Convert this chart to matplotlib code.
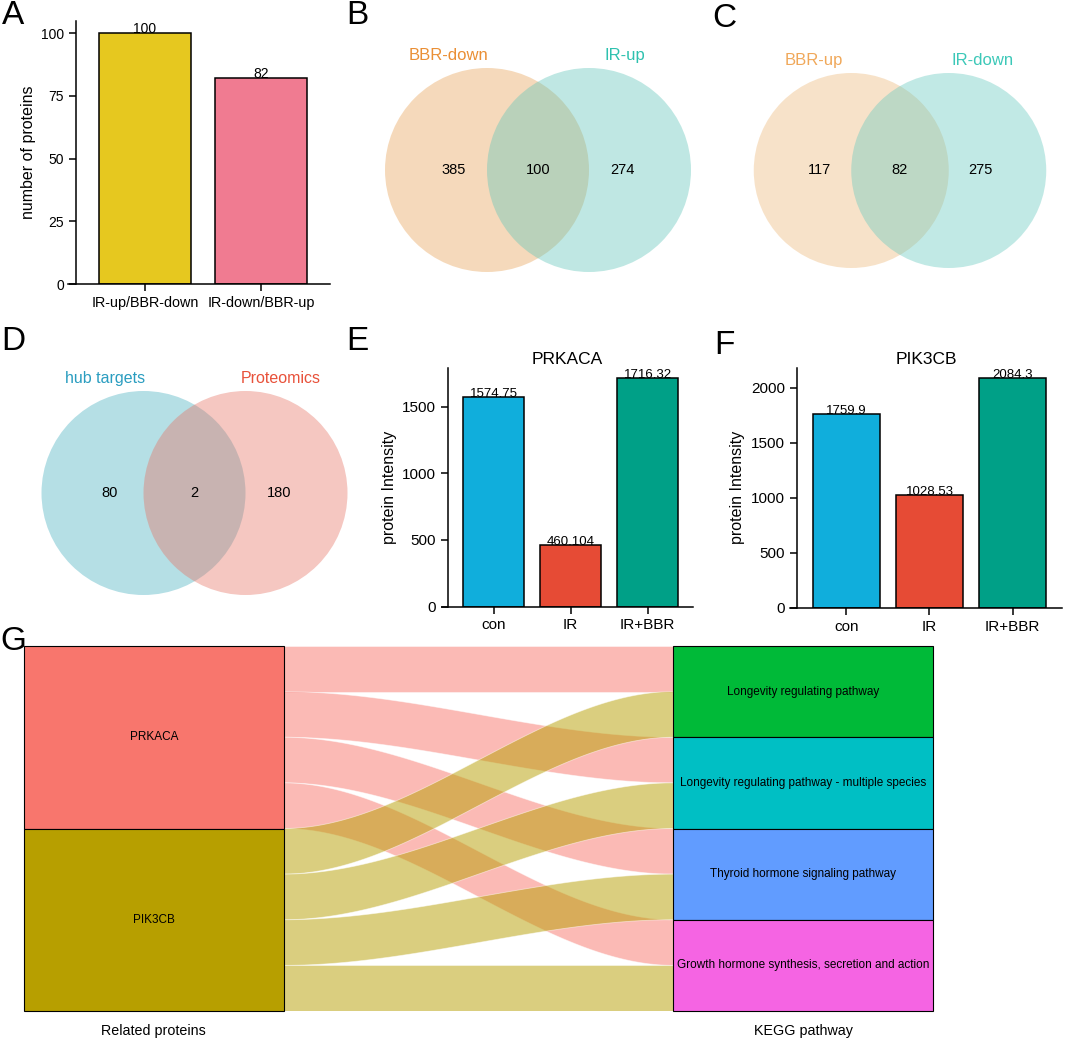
import numpy as np
import matplotlib
matplotlib.use("Agg")
import matplotlib.pyplot as plt
from matplotlib.patches import Circle, Rectangle, Polygon

plt.rcParams['font.family'] = ['Liberation Sans', 'DejaVu Sans']

# ---------------- data ----------------
a_cats = ['IR-up/BBR-down', 'IR-down/BBR-up']
a_vals = [100, 82]
a_colors = ['#E6C81F', '#F07B91']

venn_b_sets = ['BBR-down', 'IR-up']
venn_b_counts = [385, 100, 274]
venn_c_sets = ['BBR-up', 'IR-down']
venn_c_counts = [117, 82, 275]
venn_d_sets = ['hub targets', 'Proteomics']
venn_d_counts = [80, 2, 180]

groups = ['con', 'IR', 'IR+BBR']
group_colors = ['#10AEDC', '#E64B35', '#00A087']
prkaca_vals = [1574.75, 460.104, 1716.32]
pik3cb_vals = [1759.9, 1028.53, 2084.3]

proteins = ['PRKACA', 'PIK3CB']
protein_colors = ['#F8766D', '#B79F00']
pathways = ['Longevity regulating pathway',
            'Longevity regulating pathway - multiple species',
            'Thyroid hormone signaling pathway',
            'Growth hormone synthesis, secretion and action']
pathway_colors = ['#00BA38', '#00BFC4', '#619CFF', '#F564E3']
links = [(p, k, 1) for p in proteins for k in pathways]

# ---------------- figure ----------------
W, H = 1065, 1040
fig = plt.figure(figsize=(W / 100, H / 100), dpi=100)


def px_axes(x0, y0, x1, y1):
    return fig.add_axes([x0 / W, 1 - y1 / H, (x1 - x0) / W, (y1 - y0) / H])


def bar_panel(box, cats, vals, colors, ytop, yticks, ylabel, title=None,
              xl=-0.665, xr_pad=0.6, spine_x=-0.595, width=0.79, fs_val=10,
              fs_xt=10.4, fs_yt=10):
    ax = px_axes(*box)
    x = np.arange(len(cats))
    ax.bar(x, vals, width=width, color=colors, edgecolor='black', linewidth=1.1, zorder=2)
    for xi, v in zip(x, vals):
        ax.text(xi, v, f'{v:g}', ha='center', va='baseline', fontsize=fs_val, zorder=3)
    ax.set_xlim(xl, len(cats) - 1 + xr_pad)
    ax.set_ylim(0, ytop)
    ax.set_xticks(x)
    ax.set_xticklabels(cats)
    ax.set_yticks(yticks)
    ax.tick_params(axis='both', length=5, width=1.1, direction='out')
    ax.tick_params(axis='x', labelsize=fs_xt)
    ax.tick_params(axis='y', labelsize=fs_yt)
    ax.spines['top'].set_visible(False)
    ax.spines['right'].set_visible(False)
    ax.spines['left'].set_position(('data', spine_x))
    for s in ('left', 'bottom'):
        ax.spines[s].set_linewidth(1.1)
    ax.set_ylabel(ylabel, fontsize=11.5, labelpad=4)
    if title:
        ax.set_title(title, fontsize=12.5, pad=3)
    return ax


# Panel A
bar_panel((68, 21, 330, 284.3), a_cats, a_vals, a_colors, 104.8,
          [0, 25, 50, 75, 100], 'number of proteins', xl=-0.664, xr_pad=0.595)
# Panel E
bar_panel((442, 368, 693, 606.5), groups, prkaca_vals, group_colors, 1793,
          [0, 500, 1000, 1500], 'protein Intensity', title='PRKACA',
          xl=-0.669, xr_pad=0.59, spine_x=-0.591, width=0.79, fs_val=9.5,
          fs_xt=11, fs_yt=11)
# Panel F
bar_panel((790, 368, 1062, 607.7), groups, pik3cb_vals, group_colors, 2179,
          [0, 500, 1000, 1500, 2000], 'protein Intensity', title='PIK3CB',
          xl=-0.68, xr_pad=0.596, spine_x=-0.599, width=0.81, fs_val=9.5,
          fs_xt=11, fs_yt=11)


# ---------------- Venn panels ----------------
def venn_panel(cx, cy, r, sets, counts, fills, tcolors, fs_lab=12, fs_num=10.5):
    hw, hh = 1.9, 1.5
    ax = px_axes(cx - hw * r, cy - hh * r, cx + hw * r, cy + hh * r)
    ax.set_xlim(-hw, hw)
    ax.set_ylim(-hh, hh)
    ax.axis('off')
    for xc, fc in zip([-0.5, 0.5], fills):
        ax.add_patch(Circle((xc, 0), 1.0, facecolor=fc, alpha=0.4, edgecolor='none'))
    for xc, n in zip([-0.83, 0.0, 0.83], counts):
        ax.text(xc, 0, str(n), ha='center', va='center', fontsize=fs_num)
    for xc, s, tc in zip([-0.88, 0.85], sets, tcolors):
        ax.text(xc, 1.125, s, ha='center', va='center', fontsize=fs_lab, color=tc)
    return ax


venn_panel(538, 170, 102, venn_b_sets, venn_b_counts,
           ['#E8A255', '#5FC5B9'], ['#EA8F35', '#2EC1AF'])
venn_panel(900, 170.5, 97.5, venn_c_sets, venn_c_counts,
           ['#EDB878', '#66C9BF'], ['#F0A85A', '#3CC8B8'])
venn_panel(194.5, 493, 102, venn_d_sets, venn_d_counts,
           ['#46AFC0', '#E67364'], ['#2A9DC0', '#E8513A'], fs_lab=11.5, fs_num=10.5)

# ---------------- Panel G: alluvial ----------------
axg = px_axes(24, 646, 933, 1011)
total = sum(w for _, _, w in links)
axg.set_xlim(0.8, 2.2)
axg.set_ylim(total, 0)
axg.axis('off')
sw = 0.4

left_pos = {}
y = 0
for p in proteins:
    n = sum(w for pp, _, w in links if pp == p)
    left_pos[p] = [y, y + n]
    y += n
right_pos = {}
y = 0
for k in pathways:
    n = sum(w for _, kk, w in links if kk == k)
    right_pos[k] = [y, y + n]
    y += n

l_cursor = {p: left_pos[p][0] for p in proteins}
flows = []
for p in proteins:
    for k in pathways:
        for pp, kk, w in links:
            if pp == p and kk == k:
                flows.append((p, k, l_cursor[p], w))
                l_cursor[p] += w

r_cursor = {k: right_pos[k][0] for k in pathways}
rmap = {}
for k in pathways:
    for p in proteins:
        for pp, kk, w in links:
            if pp == p and kk == k:
                rmap[(p, k)] = r_cursor[k]
                r_cursor[k] += w

t = np.linspace(0, 1, 120)
s = 3 * t ** 2 - 2 * t ** 3
x0, x1 = 1 + sw / 2, 2 - sw / 2
xs = x0 + (x1 - x0) * t
for pi, p in enumerate(proteins):
    for (fp, k, yl, w) in flows:
        if fp != p:
            continue
        yr = rmap[(fp, k)]
        top = yl + (yr - yl) * s
        bot = (yl + w) + ((yr + w) - (yl + w)) * s
        verts = np.concatenate([np.column_stack([xs, top]),
                                np.column_stack([xs[::-1], bot[::-1]])])
        axg.add_patch(Polygon(verts, closed=True, facecolor=protein_colors[pi],
                              alpha=0.5, edgecolor='white', linewidth=0.6, zorder=1))

for p, c in zip(proteins, protein_colors):
    y0, y1 = left_pos[p]
    axg.add_patch(Rectangle((1 - sw / 2, y0), sw, y1 - y0, facecolor=c,
                            edgecolor='black', linewidth=0.8, zorder=3, clip_on=False))
    axg.text(1, (y0 + y1) / 2, p, ha='center', va='center', fontsize=8.5, zorder=4)
for k, c in zip(pathways, pathway_colors):
    y0, y1 = right_pos[k]
    axg.add_patch(Rectangle((2 - sw / 2, y0), sw, y1 - y0, facecolor=c,
                            edgecolor='black', linewidth=0.8, zorder=3, clip_on=False))
    axg.text(2, (y0 + y1) / 2, k, ha='center', va='center', fontsize=8.5, zorder=4)

axg.text(1, total + 0.44, 'Related proteins', ha='center', va='center', fontsize=10.3)
axg.text(2, total + 0.44, 'KEGG pathway', ha='center', va='center', fontsize=10.3)

# ---------------- panel letters ----------------
letters = [('A', 2, 0), ('B', 346, 0), ('C', 712, 3), ('D', 1, 326),
           ('E', 346, 326), ('F', 714, 330), ('G', 0, 626)]
for lab, lx, ly in letters:
    fig.text(lx / W, 1 - ly / H, lab, fontsize=24, ha='left', va='top')

fig.savefig('out.png', dpi=100)
